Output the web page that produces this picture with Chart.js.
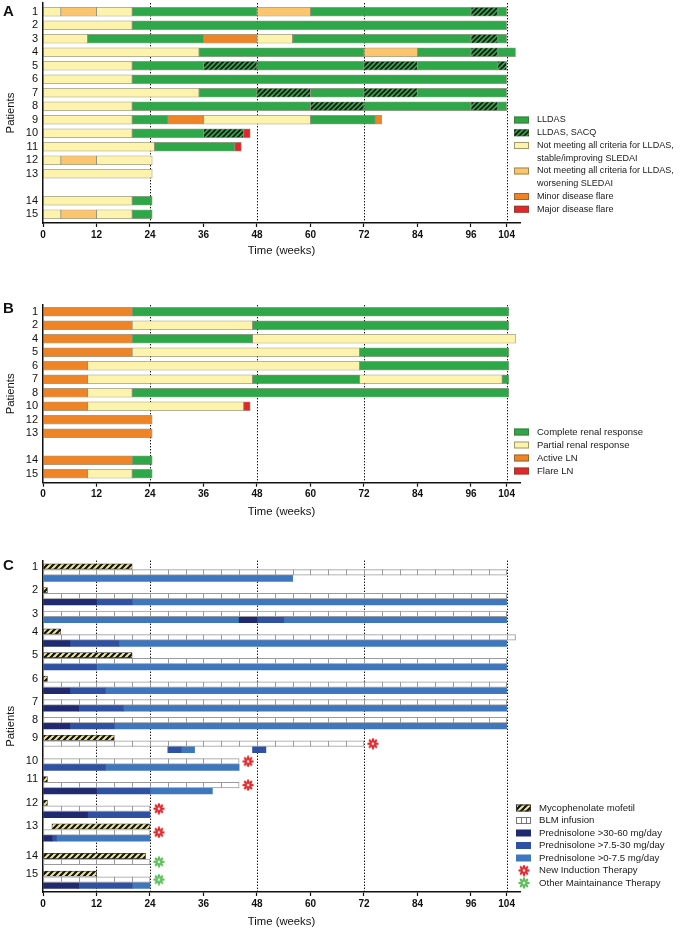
<!DOCTYPE html>
<html>
<head>
<meta charset="utf-8">
<title>LLDAS, renal response and treatment by patient</title>
<script src="https://cdn.jsdelivr.net/npm/chart.js@4.4.1/dist/chart.umd.min.js"></script>
<style>
  html, body { margin: 0; padding: 0; background: #fff; }
  .panel { position: absolute; left: 0; width: 680px; }
  #wrapA { top: 0; height: 262px; }
  #wrapB { top: 285px; height: 238px; }
  #wrapC { top: 540px; height: 393px; }
</style>
</head>
<body>
<div class="panel" id="wrapA"><canvas id="chartA"></canvas></div>
<div class="panel" id="wrapB"><canvas id="chartB"></canvas></div>
<div class="panel" id="wrapC"><canvas id="chartC"></canvas></div>
<script>
const FONT = '"Liberation Sans", Arial, Helvetica, sans-serif';

// x axis (weeks)
const weekTicks = [0, 12, 24, 36, 48, 60, 72, 84, 96, 104];

// ---- Panel A: LLDAS status ('' = empty row) ----
const aPatients = ['1', '2', '3', '4', '5', '6', '7', '8', '9', '10', '11', '12', '13', '', '14', '15'];
const aKeys = ['L', 'Q', 'S', 'W', 'm', 'M'];
const aLabels = [
  ['LLDAS'],
  ['LLDAS, SACQ'],
  ['Not meeting all criteria for LLDAS,', 'stable/improving SLEDAI'],
  ['Not meeting all criteria for LLDAS,', 'worsening SLEDAI'],
  ['Minor disease flare'],
  ['Major disease flare']
];
const aBreaks = [
  [0, 4, 12, 20, 48, 60, 96, 102, 104],
  [0, 20, 104],
  [0, 10, 36, 48, 56, 96, 102, 104],
  [0, 35, 72, 84, 96, 102, 106],
  [0, 20, 36, 48, 72, 84, 102, 104],
  [0, 20, 104],
  [0, 35, 48, 60, 72, 84, 104],
  [0, 20, 60, 72, 96, 102, 104],
  [0, 20, 28, 36, 60, 74.5, 76],
  [0, 20, 36, 45, 46.5],
  [0, 25, 43, 44.5],
  [0, 4, 12, 24.5],
  [0, 24.5],
  [0, 20, 24.5],
  [0, 4, 12, 20, 24.5]
];
const aCodes = [
  ['S', 'W', 'S', 'L', 'W', 'L', 'Q', 'L'],
  ['S', 'L'],
  ['S', 'L', 'm', 'S', 'L', 'Q', 'L'],
  ['S', 'L', 'W', 'L', 'Q', 'L'],
  ['S', 'L', 'Q', 'L', 'Q', 'L', 'Q'],
  ['S', 'L'],
  ['S', 'L', 'Q', 'L', 'Q', 'L'],
  ['S', 'L', 'Q', 'L', 'Q', 'L'],
  ['S', 'L', 'm', 'S', 'L', 'm'],
  ['S', 'L', 'Q', 'M'],
  ['S', 'L', 'M'],
  ['S', 'W', 'S'],
  ['S'],
  ['S', 'L'],
  ['S', 'W', 'S', 'L']
];
const aRefWeeks = [24, 48, 72, 104];

// ---- Panel B: renal response ----
const bPatients = ['1', '2', '4', '5', '6', '7', '8', '10', '12', '13', '', '14', '15'];
const bKeys = ['C', 'P', 'A', 'F'];
const bLabels = [['Complete renal response'], ['Partial renal response'], ['Active LN'], ['Flare LN']];
const bBreaks = [
  [0, 20, 104.5],
  [0, 20, 47, 104.5],
  [0, 20, 47, 106],
  [0, 20, 71, 104.5],
  [0, 10, 71, 104.5],
  [0, 10, 47, 71, 103, 104.5],
  [0, 10, 20, 104.5],
  [0, 10, 45, 46.5],
  [0, 24.5],
  [0, 24.5],
  [0, 20, 24.5],
  [0, 10, 20, 24.5]
];
const bCodes = [
  ['A', 'C'],
  ['A', 'P', 'C'],
  ['A', 'C', 'P'],
  ['A', 'P', 'C'],
  ['A', 'P', 'C'],
  ['A', 'P', 'C', 'P', 'C'],
  ['A', 'P', 'C'],
  ['A', 'P', 'F'],
  ['A'],
  ['A'],
  ['A', 'C'],
  ['A', 'P', 'C']
];
const bRefWeeks = [24, 48, 72, 104];

// ---- Panel C: treatment ----
const cPatients = ['1', '2', '3', '4', '5', '6', '7', '8', '9', '10', '11', '12', '13', '', '14', '15'];
const cMmf = [[0, 20], [0, 1], null, [0, 4], [0, 20], [0, 1], null, null, [0, 16], null, [0, 1], [0, 1], [2, 24], [0, 23], [0, 12]];
const cBlm = [[0, 104], [0, 104], [0, 104], [0, 106], [0, 104], [0, 104], [0, 104], [0, 104], [0, 72], [0, 44], [0, 44], [0, 24], [0, 24], [0, 24], [0, 24]];
const cPredBreaks = [
  [0, 56],
  [0, 12, 20, 104],
  [0, 44, 48, 54, 104],
  [0, 6, 17, 104],
  [0, 12, 104],
  [0, 6, 14, 104],
  [0, 8, 18, 104],
  [0, 6, 16, 104],
  [28, 31, 34, 47, 50],
  [0, 14, 44],
  [0, 12, 24, 38],
  [0, 10, 24],
  [0, 2, 3, 24],
  [],
  [0, 8, 20, 24]
];
const cPredDose = [
  ['lo'],
  ['hi', 'mid', 'lo'],
  ['lo', 'hi', 'mid', 'lo'],
  ['hi', 'mid', 'lo'],
  ['mid', 'lo'],
  ['hi', 'mid', 'lo'],
  ['hi', 'mid', 'lo'],
  ['hi', 'mid', 'lo'],
  ['mid', 'lo', null, 'mid'],
  ['mid', 'lo'],
  ['hi', 'mid', 'lo'],
  ['hi', 'mid'],
  ['hi', 'mid', 'lo'],
  [],
  ['hi', 'mid', 'lo']
];
const cEventWeek = [null, null, null, null, null, null, null, null, 74, 46, 46, 26, 26, 26, 26];
const cEventType = [null, null, null, null, null, null, null, null, 'new', 'new', 'new', 'new', 'new', 'other', 'other'];
const cDoseKeys = ['hi', 'mid', 'lo'];
const cLabels = ['Mycophenolate mofetil', 'BLM infusion', 'Prednisolone >30-60 mg/day',
  'Prednisolone >7.5-30 mg/day', 'Prednisolone >0-7.5 mg/day', 'New Induction Therapy', 'Other Maintainance Therapy'];
const cRefWeeks = [12, 24, 48, 72, 104];
const blmEvery = 4;

// ---- styles ----
function hatch(base, stripe, size, width) {
  const c = document.createElement('canvas');
  c.width = c.height = size;
  const g = c.getContext('2d');
  g.fillStyle = base;
  g.fillRect(0, 0, size, size);
  g.strokeStyle = stripe;
  g.lineWidth = width;
  g.beginPath();
  g.moveTo(-size, 2 * size); g.lineTo(2 * size, -size);
  g.moveTo(-size, size); g.lineTo(size, -size);
  g.moveTo(0, 2 * size); g.lineTo(2 * size, 0);
  g.stroke();
  return g.createPattern(c, 'repeat');
}

function asterisk(color) {
  const s = 12, c = document.createElement('canvas');
  c.width = c.height = s;
  const g = c.getContext('2d');
  g.translate(s / 2, s / 2);
  g.fillStyle = color;
  for (let k = 0; k < 8; k++) {
    g.save();
    g.rotate(k * Math.PI / 4);
    g.beginPath();
    g.ellipse(0, -3.4, 1.25, 2.4, 0, 0, Math.PI * 2);
    g.fill();
    g.restore();
  }
  return c;
}

const GREEN = '#2da748';
const aColors = {
  L: GREEN, Q: hatch(GREEN, '#111', 5, 1.6), S: '#fdf3ad', W: '#fac56c', m: '#ef8427', M: '#e2262c'
};
const bColors = { C: GREEN, P: '#fdf3ad', A: '#ef8427', F: '#e2262c' };
const doseColors = { hi: '#1f2a70', mid: '#2f51a3', lo: '#3f77bf' };
const mmfFill = hatch('#f1e98a', '#111', 6, 2.2);
const starImgs = { new: asterisk('#e0292c'), other: asterisk('#5dbf5a') };

// ---- plugins ----
const refLines = {
  id: 'refLines',
  beforeDatasetsDraw(chart, _a, o) {
    const { ctx, chartArea, scales: { x } } = chart;
    ctx.save();
    ctx.strokeStyle = '#111';
    ctx.lineWidth = 1;
    ctx.setLineDash([1.4, 1.6]);
    o.weeks.forEach(w => {
      const px = Math.round(x.getPixelForValue(w)) + 0.5;
      ctx.beginPath();
      ctx.moveTo(px, chartArea.top);
      ctx.lineTo(px, chartArea.bottom);
      ctx.stroke();
    });
    ctx.restore();
  }
};

const blmBoxes = {
  id: 'blmBoxes',
  afterDatasetsDraw(chart) {
    const i = chart.data.datasets.findIndex(d => d.blm);
    if (i < 0) return;
    const meta = chart.getDatasetMeta(i), x = chart.scales.x, ctx = chart.ctx;
    ctx.save();
    ctx.strokeStyle = '#9a9a9a';
    ctx.lineWidth = 1;
    chart.data.datasets[i].data.forEach((d, j) => {
      const bar = meta.data[j], h = bar.height / 2;
      for (let w = d.x[0] + blmEvery; w < d.x[1] - 0.5; w += blmEvery) {
        const px = Math.round(x.getPixelForValue(w)) + 0.5;
        ctx.beginPath();
        ctx.moveTo(px, bar.y - h);
        ctx.lineTo(px, bar.y + h);
        ctx.stroke();
      }
    });
    ctx.restore();
  }
};

function drawIcon(ctx, it, x, y) {
  if (it.star) {
    ctx.drawImage(it.star, x + 2, y - 6);
    return;
  }
  ctx.fillStyle = it.fill;
  ctx.fillRect(x, y - 3.5, 15, 7);
  if (it.stroke) {
    ctx.strokeStyle = it.stroke;
    ctx.lineWidth = 1;
    ctx.strokeRect(x + 0.5, y - 3, 14, 6);
    if (it.cells) {
      ctx.beginPath();
      ctx.moveTo(x + 5.5, y - 3); ctx.lineTo(x + 5.5, y + 3);
      ctx.moveTo(x + 10.5, y - 3); ctx.lineTo(x + 10.5, y + 3);
      ctx.stroke();
    }
  }
}

const sideLegend = {
  id: 'sideLegend',
  afterDraw(chart, _a, o) {
    const ctx = chart.ctx;
    ctx.save();
    ctx.font = o.size + 'px ' + FONT;
    ctx.textBaseline = 'middle';
    let y = o.top;
    o.items.forEach(it => {
      drawIcon(ctx, it, o.x, y);
      ctx.fillStyle = '#1a1a1a';
      it.lines.forEach((t, k) => ctx.fillText(t, o.textX, y + k * o.step));
      y += it.lines.length * o.step;
    });
    ctx.restore();
  }
};

const panelTag = {
  id: 'panelTag',
  afterDraw(chart, _a, o) {
    const ctx = chart.ctx;
    ctx.save();
    ctx.font = 'bold 15px ' + FONT;
    ctx.fillStyle = '#111';
    ctx.textBaseline = 'middle';
    ctx.fillText(o.text, 3, o.y);
    ctx.restore();
  }
};

// ---- helpers ----
function rowMap(patients) {
  const rows = [];
  patients.forEach((p, i) => { if (p !== '') rows.push({ label: p, row: i + 1 }); });
  return rows;
}

function segments(rows, breaksList, codesList) {
  const segs = [];
  rows.forEach((r, i) => {
    const b = breaksList[i];
    codesList[i].forEach((code, k) => {
      if (code) segs.push({ x: [b[k], b[k + 1]], y: r.row, code });
    });
  });
  return segs;
}

function options(geo, rows, extra) {
  const labelAt = new Map(rows.map(r => [r.row, r.label]));
  return {
    indexAxis: 'y',
    responsive: true,
    maintainAspectRatio: false,
    animation: false,
    events: [],
    layout: { padding: { top: geo.padTop, right: 160, left: 0, bottom: 0 } },
    plugins: Object.assign({ legend: { display: false }, tooltip: { enabled: false } }, extra),
    scales: {
      x: {
        type: 'linear', min: 0, max: 107, offset: false,
        afterBuildTicks: s => { s.ticks = weekTicks.map(v => ({ value: v })); },
        afterFit: s => { s.height = geo.xHeight; s.paddingLeft = 0; s.paddingRight = 0; },
        ticks: { autoSkip: false, maxRotation: 0, padding: 2, color: '#111',
          font: { family: FONT, size: 10, weight: 'bold' } },
        grid: { offset: false, drawOnChartArea: false, drawTicks: true, tickLength: 4, tickColor: '#111', tickWidth: 1.2, color: '#111' },
        border: { color: '#111', width: 1.5 },
        title: { display: true, text: 'Time (weeks)', color: '#111',
          font: { family: FONT, size: 11.3 }, padding: { top: 2, bottom: 4 } }
      },
      y: {
        type: 'linear', reverse: true, min: geo.yMin, max: geo.yMax, offset: false,
        afterBuildTicks: s => { s.ticks = rows.map(r => ({ value: r.row })); },
        afterFit: s => { s.width = 43; s.paddingTop = 0; s.paddingBottom = 0; },
        ticks: { autoSkip: false, padding: 5, color: '#111', font: { family: FONT, size: 11 },
          callback: v => labelAt.get(v) },
        grid: { offset: false, display: false, drawTicks: false },
        border: { color: '#111', width: 1.5 },
        title: { display: true, text: 'Patients', color: '#111', font: { family: FONT, size: 11.3 },
          padding: { top: 4, bottom: 2 } }
      }
    }
  };
}

const segBorder = 'rgba(80, 80, 50, 0.55)';

// ---- Panel A ----
const aRows = rowMap(aPatients);
const aSegs = segments(aRows, aBreaks, aCodes);
new Chart(document.getElementById('chartA'), {
  type: 'bar',
  data: {
    datasets: aKeys.map(k => ({
      data: aSegs.filter(s => s.code === k),
      backgroundColor: aColors[k], borderColor: segBorder, borderWidth: 0.8, borderSkipped: false,
      grouped: false, barThickness: 9
    }))
  },
  options: options({ padTop: 3, xHeight: 39, yMin: 0.35, yMax: 16.65 }, aRows, {
    refLines: { weeks: aRefWeeks },
    panelTag: { text: 'A', y: 12 },
    sideLegend: {
      x: 514, textX: 537, top: 120, step: 12.75, size: 9.05,
      items: aKeys.map((k, i) => ({ fill: aColors[k], stroke: segBorder, lines: aLabels[i] }))
    }
  }),
  plugins: [refLines, sideLegend, panelTag]
});

// ---- Panel B ----
const bRows = rowMap(bPatients);
const bSegs = segments(bRows, bBreaks, bCodes);
new Chart(document.getElementById('chartB'), {
  type: 'bar',
  data: {
    datasets: bKeys.map(k => ({
      data: bSegs.filter(s => s.code === k),
      backgroundColor: bColors[k], borderColor: segBorder, borderWidth: 0.8, borderSkipped: false,
      grouped: false, barThickness: 9
    }))
  },
  options: options({ padTop: 20, xHeight: 40.3, yMin: 0.5, yMax: 13.66 }, bRows, {
    refLines: { weeks: bRefWeeks },
    panelTag: { text: 'B', y: 23.5 },
    sideLegend: {
      x: 514, textX: 537, top: 147, step: 13, size: 9.5,
      items: bKeys.map((k, i) => ({ fill: bColors[k], stroke: segBorder, lines: bLabels[i] }))
    }
  }),
  plugins: [refLines, sideLegend, panelTag]
});

// ---- Panel C ----
// each patient: MMF row (if any), BLM row, prednisolone row (if any), then a spacer row
const cRows = [];
const mmfData = [], blmData = [], predData = [], eventData = [];
let row = 0, pi = 0;
cPatients.forEach(p => {
  if (p === '') { row += 1; return; }
  const i = pi++;
  const first = row;
  if (cMmf[i]) mmfData.push({ x: cMmf[i], y: row++ });
  const blmRow = row;
  blmData.push({ x: cBlm[i], y: row++ });
  if (cPredBreaks[i].length) {
    const b = cPredBreaks[i];
    cPredDose[i].forEach((d, k) => { if (d) predData.push({ x: [b[k], b[k + 1]], y: row, code: d }); });
    row++;
  }
  if (cEventWeek[i] !== null) eventData.push({ x: cEventWeek[i], y: blmRow, type: cEventType[i] });
  row++;
  cRows.push({ label: p, row: first });
});

new Chart(document.getElementById('chartC'), {
  type: 'bar',
  data: {
    datasets: [
      { data: mmfData, backgroundColor: mmfFill, borderColor: '#333', borderWidth: 0.7,
        borderSkipped: false, grouped: false, barThickness: 5.2 },
      { data: blmData, blm: true, backgroundColor: '#fff', borderColor: '#9a9a9a', borderWidth: 1,
        borderSkipped: false, grouped: false, barThickness: 5.6 },
      ...cDoseKeys.map(k => ({
        data: predData.filter(s => s.code === k), backgroundColor: doseColors[k], borderWidth: 0,
        grouped: false, barThickness: 6
      })),
      { type: 'scatter', data: eventData,
        pointStyle: eventData.map(e => starImgs[e.type]), pointRadius: 5 }
    ]
  },
  options: options({ padTop: 20.6, xHeight: 41, yMin: -1, yMax: 55.1 }, cRows, {
    refLines: { weeks: cRefWeeks },
    panelTag: { text: 'C', y: 26 },
    sideLegend: {
      x: 516, textX: 539, top: 268, step: 12.5, size: 9.6,
      items: [
        { fill: mmfFill, stroke: '#333', lines: [cLabels[0]] },
        { fill: '#fff', stroke: '#777', cells: true, lines: [cLabels[1]] },
        { fill: doseColors.hi, lines: [cLabels[2]] },
        { fill: doseColors.mid, lines: [cLabels[3]] },
        { fill: doseColors.lo, lines: [cLabels[4]] },
        { star: starImgs.new, lines: [cLabels[5]] },
        { star: starImgs.other, lines: [cLabels[6]] }
      ]
    }
  }),
  plugins: [refLines, blmBoxes, sideLegend, panelTag]
});
</script>
</body>
</html>
